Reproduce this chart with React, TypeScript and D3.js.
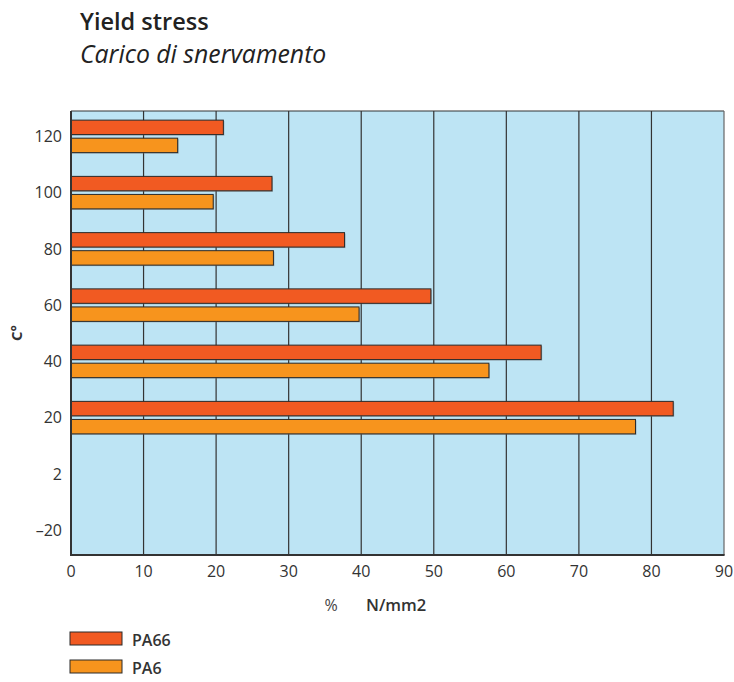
import React from 'react';
import * as d3 from 'd3';

const categories: string[] = ["120", "100", "80", "60", "40", "20", "2", "-20"];
const seriesNames: string[] = ["PA66", "PA6"];
const pa66: (number | null)[] = [21, 27.7, 37.7, 49.6, 64.8, 83, null, null];
const pa6: (number | null)[] = [14.7, 19.6, 27.9, 39.7, 57.6, 77.8, null, null];
const xTicks: number[] = [0, 10, 20, 30, 40, 50, 60, 70, 80, 90];

const colors: Record<string, string> = { PA66: "#f15a22", PA6: "#f7941d" };
const font = "'Open Sans', 'DejaVu Sans', sans-serif";

const App: React.FC = () => {
    const width = 734;
    const height = 682;
    const left = 71, right = 724, top = 111, bottom = 555;

    const xScale = d3.scaleLinear().domain([0, 90]).range([left, right]);
    const yScale = d3.scaleBand().domain(categories).range([108.5, 558.5]);
    const sub = d3.scaleBand().domain(seriesNames).range([-16.5, 16]).paddingInner(0.2);

    const values: Record<string, (number | null)[]> = { PA66: pa66, PA6: pa6 };
    const bars = seriesNames.flatMap(name =>
        categories.map((c, i) => ({ name, cat: c, v: values[name][i] }))
            .filter(d => d.v !== null)
    );

    return (
        <svg width={width} height={height} style={{ position: 'absolute', left: 0, top: 0 }}
            fontFamily={font}>
            <rect width={width} height={height} fill="#fff" />
            <text x={80} y={30} fontSize={23.5} fontWeight={600} fill="#222">Yield stress</text>
            <text x={80} y={63} fontSize={24.8} fontStyle="italic" fill="#222">Carico di snervamento</text>

            <rect x={left} y={top} width={right - left} height={bottom - top} fill="#bde4f4" />
            {xTicks.slice(1, -1).map(t => (
                <line key={t} x1={xScale(t)} x2={xScale(t)} y1={top} y2={bottom}
                    stroke="#333" strokeWidth={1.2} />
            ))}
            <line x1={left} x2={right} y1={top} y2={top} stroke="#333" strokeWidth={1.2} />
            <line x1={right} x2={right} y1={top} y2={bottom} stroke="#666" strokeWidth={1.2} />

            {bars.map(d => {
                const y = yScale(d.cat)! + yScale.bandwidth() / 2 + sub(d.name)!;
                return (
                    <g key={d.name + d.cat}>
                        <rect x={xScale(0) + 1} y={y + 1} width={xScale(d.v as number) - xScale(0)}
                            height={sub.bandwidth()} fill="#777" opacity={0.5} />
                        <rect x={xScale(0)} y={y} width={xScale(d.v as number) - xScale(0)}
                            height={sub.bandwidth()} fill={colors[d.name]} stroke="#2a2a2a" strokeWidth={1} />
                    </g>
                );
            })}

            <line x1={left} x2={left} y1={top} y2={bottom + 1} stroke="#333" strokeWidth={2} />
            <line x1={left - 1} x2={right + 0.6} y1={bottom} y2={bottom} stroke="#333" strokeWidth={2} />

            {categories.map(c => (
                <text key={c} x={62} y={yScale(c)! + yScale.bandwidth() / 2 + 5.5} textAnchor="end"
                    fontSize={16} fill="#333">{c.replace("-", "\u2013")}</text>
            ))}
            {xTicks.map(t => (
                <text key={t} x={xScale(t)} y={577} textAnchor="middle" fontSize={16} fill="#333">{t}</text>
            ))}

            <text transform="translate(22,333) rotate(-90)" textAnchor="middle" fontSize={15}
                fontWeight={700} fill="#333">C°</text>
            <text x={331} y={611} textAnchor="middle" fontSize={16} fill="#444">%</text>
            <text x={366} y={611} fontSize={16.5} fontWeight={600} fill="#333">N/mm2</text>

            {seriesNames.map((name, i) => (
                <g key={name} transform={`translate(70, ${632 + i * 28})`}>
                    <rect x={0} y={0} width={52} height={13} fill={colors[name]} stroke="#2a2a2a" strokeWidth={1} />
                    <text x={62} y={13.5} fontSize={16} fontWeight={600} fill="#333">{name}</text>
                </g>
            ))}
        </svg>
    );
};

export default App;
